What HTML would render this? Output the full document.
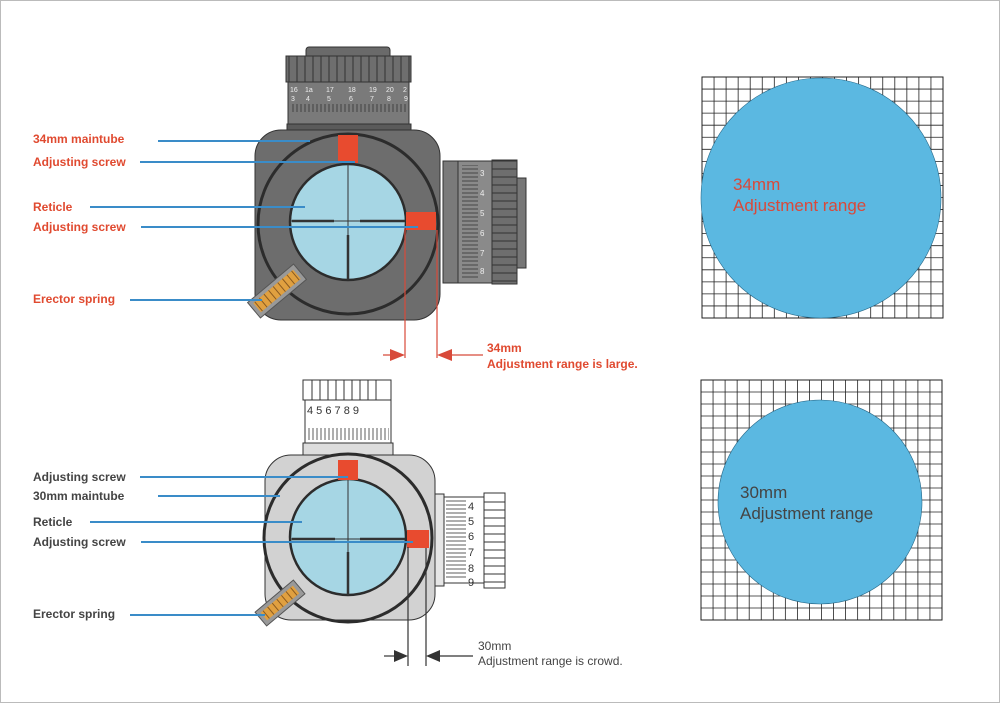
<!DOCTYPE html>
<html><head><meta charset="utf-8"><style>
html,body{margin:0;padding:0;background:#fff;width:1000px;height:703px;overflow:hidden}
svg{display:block}
text{font-family:"Liberation Sans",sans-serif}
</style></head><body>
<svg width="1000" height="703" viewBox="0 0 1000 703">
<defs>
<pattern id="tick" width="4" height="10" patternUnits="userSpaceOnUse">
<path d="M1 0V10" stroke="#333" stroke-width="0.8"/>
</pattern>
<pattern id="tickv" width="10" height="4" patternUnits="userSpaceOnUse">
<path d="M0 1H10" stroke="#333" stroke-width="0.8"/>
</pattern>
<pattern id="knurl" width="8" height="20" patternUnits="userSpaceOnUse">
<rect width="8" height="20" fill="#6e6e6e"/><path d="M1 0V20" stroke="#333" stroke-width="1"/>
</pattern>
<pattern id="knurlv" width="20" height="8" patternUnits="userSpaceOnUse">
<rect width="20" height="8" fill="#6e6e6e"/><path d="M0 1H20" stroke="#333" stroke-width="1"/>
</pattern>
</defs>
<rect x="0.5" y="0.5" width="999" height="702" fill="none" stroke="#bbb"/>

<!-- grids -->
<rect x="702" y="77" width="241" height="241" fill="#fff" stroke="#222"/>
<path stroke="#222" stroke-width="0.8" fill="none" d="M702 77v241m12.05 -241v241m12.05 -241v241m12.05 -241v241m12.05 -241v241m12.05 -241v241m12.05 -241v241m12.05 -241v241m12.05 -241v241m12.05 -241v241m12.05 -241v241m12.05 -241v241m12.05 -241v241m12.05 -241v241m12.05 -241v241m12.05 -241v241m12.05 -241v241m12.05 -241v241m12.05 -241v241m12.05 -241v241m12.05 -241v241
M702 77h241m-241 12.05h241m-241 12.05h241m-241 12.05h241m-241 12.05h241m-241 12.05h241m-241 12.05h241m-241 12.05h241m-241 12.05h241m-241 12.05h241m-241 12.05h241m-241 12.05h241m-241 12.05h241m-241 12.05h241m-241 12.05h241m-241 12.05h241m-241 12.05h241m-241 12.05h241m-241 12.05h241m-241 12.05h241m-241 12.05h241"/>
<circle cx="821" cy="198" r="120" fill="#5bb8e1" stroke="#2a6a8a" stroke-width="0.6"/>
<text x="733" y="190" font-size="17" fill="#d9493a">34mm</text>
<text x="733" y="211" font-size="17" fill="#d9493a">Adjustment range</text>

<rect x="701" y="380" width="241" height="240" fill="#fff" stroke="#222"/>
<path stroke="#222" stroke-width="0.8" fill="none" d="M701 380v240m12.05 -240v240m12.05 -240v240m12.05 -240v240m12.05 -240v240m12.05 -240v240m12.05 -240v240m12.05 -240v240m12.05 -240v240m12.05 -240v240m12.05 -240v240m12.05 -240v240m12.05 -240v240m12.05 -240v240m12.05 -240v240m12.05 -240v240m12.05 -240v240m12.05 -240v240m12.05 -240v240m12.05 -240v240m12.05 -240v240
M701 380h241m-241 12h241m-241 12h241m-241 12h241m-241 12h241m-241 12h241m-241 12h241m-241 12h241m-241 12h241m-241 12h241m-241 12h241m-241 12h241m-241 12h241m-241 12h241m-241 12h241m-241 12h241m-241 12h241m-241 12h241m-241 12h241m-241 12h241m-241 12h241"/>
<circle cx="820" cy="502" r="102" fill="#5bb8e1" stroke="#2a6a8a" stroke-width="0.6"/>
<text x="740" y="498" font-size="17" fill="#444">30mm</text>
<text x="740" y="519" font-size="17" fill="#444">Adjustment range</text>

<!-- TOP SCOPE -->
<rect x="306" y="47" width="84" height="14" rx="3" fill="#6a6a6a" stroke="#333"/>
<rect x="286" y="56" width="125" height="26" fill="url(#knurl)" stroke="#333"/>
<rect x="288" y="82" width="121" height="42" fill="#7a7a7a" stroke="#333"/>
<g font-size="7" fill="#eee">
<text x="290" y="92">16</text><text x="305" y="92">1a</text><text x="326" y="92">17</text><text x="348" y="92">18</text><text x="369" y="92">19</text><text x="386" y="92">20</text><text x="403" y="92">2</text>
<text x="291" y="101">3</text><text x="306" y="101">4</text><text x="327" y="101">5</text><text x="349" y="101">6</text><text x="370" y="101">7</text><text x="387" y="101">8</text><text x="404" y="101">9</text>
</g>
<rect x="290" y="104" width="118" height="8" fill="url(#tick)"/>
<rect x="287" y="124" width="124" height="8" fill="#5a5a5a" stroke="#333"/>
<rect x="443" y="161" width="20" height="122" fill="#7a7a7a" stroke="#333"/>
<rect x="458" y="161" width="34" height="122" fill="#8a8a8a" stroke="#333"/>
<rect x="462" y="165" width="16" height="114" fill="url(#tickv)"/>
<g font-size="8" fill="#eee">
<text x="480" y="176">3</text><text x="480" y="196">4</text><text x="480" y="216">5</text><text x="480" y="236">6</text><text x="480" y="256">7</text><text x="480" y="274">8</text>
</g>
<rect x="492" y="160" width="25" height="124" fill="url(#knurlv)" stroke="#333"/>
<rect x="517" y="178" width="9" height="90" fill="#777" stroke="#333"/>
<rect x="255" y="130" width="185" height="190" rx="26" fill="#6d6d6d" stroke="#333"/>
<circle cx="348" cy="224" r="90" fill="none" stroke="#2c2c2c" stroke-width="3"/>
<circle cx="348" cy="222" r="58" fill="#a6d6e4" stroke="#2c2c2c" stroke-width="2.5"/>
<line x1="348" y1="164" x2="348" y2="280" stroke="#333" stroke-width="1"/>
<line x1="290" y1="221" x2="405" y2="221" stroke="#333" stroke-width="1"/>
<line x1="348" y1="235" x2="348" y2="280" stroke="#333" stroke-width="2.5"/>
<line x1="292" y1="221" x2="334" y2="221" stroke="#333" stroke-width="2.5"/>
<line x1="360" y1="221" x2="405" y2="221" stroke="#333" stroke-width="2.5"/>
<rect x="338" y="135" width="20" height="28" fill="#e84b2f"/>
<rect x="406" y="212" width="30" height="18" fill="#e84b2f"/>
<g transform="translate(277,291) rotate(-40)">
<rect x="-30" y="-10" width="60" height="20" fill="#999" stroke="#555"/>
<rect x="-26" y="-6" width="52" height="12" fill="#e0a040"/>
<path d="M-24 -6V6M-18 -6V6M-12 -6V6M-6 -6V6M0 -6V6M6 -6V6M12 -6V6M18 -6V6M24 -6V6" stroke="#8a5a20"/>
</g>
<g font-size="12" font-weight="bold" fill="#e04a30">
<text x="33" y="143">34mm maintube</text>
<text x="33" y="166">Adjusting screw</text>
<text x="33" y="211">Reticle</text>
<text x="33" y="231">Adjusting screw</text>
<text x="33" y="303">Erector spring</text>
</g>
<g stroke="#3a8cc8" stroke-width="2">
<line x1="158" y1="141" x2="310" y2="141"/>
<line x1="140" y1="162" x2="355" y2="162"/>
<line x1="90" y1="207" x2="305" y2="207"/>
<line x1="141" y1="227" x2="418" y2="227"/>
<line x1="130" y1="300" x2="262" y2="300"/>
</g>
<g stroke="#d84a3a" stroke-width="1.2">
<line x1="405" y1="228" x2="405" y2="358"/>
<line x1="437" y1="230" x2="437" y2="358"/>
<line x1="383" y1="355" x2="400" y2="355"/>
<line x1="444" y1="355" x2="483" y2="355"/>
</g>
<path d="M405 355 L390 349 L390 361Z M437 355 L452 349 L452 361Z" fill="#d84a3a"/>
<text x="487" y="352" font-size="12" font-weight="bold" fill="#e04a30">34mm</text>
<text x="487" y="368" font-size="12" font-weight="bold" fill="#e04a30">Adjustment range is large.</text>

<!-- BOTTOM SCOPE -->
<rect x="303" y="380" width="88" height="20" fill="#fff" stroke="#333"/>
<path d="M312 380V400M320 380V400M328 380V400M336 380V400M344 380V400M352 380V400M360 380V400M368 380V400M376 380V400" stroke="#333"/>
<rect x="305" y="400" width="86" height="43" fill="#fff" stroke="#333"/>
<text x="307" y="414" font-size="11" fill="#333">4 5  6  7  8  9</text>
<rect x="307" y="428" width="82" height="12" fill="url(#tick)"/>
<rect x="303" y="443" width="90" height="14" fill="#ddd" stroke="#333"/>
<rect x="430" y="494" width="14" height="92" fill="#e6e6e6" stroke="#333"/>
<rect x="444" y="497" width="40" height="86" fill="#fff" stroke="#333"/>
<rect x="446" y="500" width="20" height="80" fill="url(#tickv)"/>
<text x="468" y="510" font-size="11" fill="#333">4</text>
<text x="468" y="525" font-size="11" fill="#333">5</text>
<text x="468" y="540" font-size="11" fill="#333">6</text>
<text x="468" y="556" font-size="11" fill="#333">7</text>
<text x="468" y="572" font-size="11" fill="#333">8</text>
<text x="468" y="586" font-size="11" fill="#333">9</text>
<rect x="484" y="493" width="21" height="95" fill="#fff" stroke="#333"/>
<path d="M484 502H505M484 510H505M484 518H505M484 526H505M484 534H505M484 542H505M484 550H505M484 558H505M484 566H505M484 574H505M484 582H505" stroke="#333"/>
<rect x="265" y="455" width="170" height="165" rx="26" fill="#d2d2d2" stroke="#333"/>
<circle cx="348" cy="538" r="84" fill="none" stroke="#2c2c2c" stroke-width="3"/>
<circle cx="348" cy="537" r="58" fill="#a6d6e4" stroke="#2c2c2c" stroke-width="2.5"/>
<line x1="348" y1="479" x2="348" y2="595" stroke="#333" stroke-width="1"/>
<line x1="290" y1="539" x2="405" y2="539" stroke="#333" stroke-width="1"/>
<line x1="348" y1="552" x2="348" y2="595" stroke="#333" stroke-width="2.5"/>
<line x1="292" y1="539" x2="335" y2="539" stroke="#333" stroke-width="2.5"/>
<line x1="360" y1="539" x2="405" y2="539" stroke="#333" stroke-width="2.5"/>
<rect x="338" y="460" width="20" height="20" fill="#e84b2f"/>
<rect x="407" y="530" width="22" height="18" fill="#e84b2f"/>
<g transform="translate(280,603) rotate(-40)">
<rect x="-25" y="-9" width="50" height="18" fill="#999" stroke="#555"/>
<rect x="-21" y="-5" width="42" height="10" fill="#e0a040"/>
<path d="M-18 -5V5M-12 -5V5M-6 -5V5M0 -5V5M6 -5V5M12 -5V5M18 -5V5" stroke="#8a5a20"/>
</g>
<g font-size="12" font-weight="bold" fill="#444">
<text x="33" y="481">Adjusting screw</text>
<text x="33" y="500">30mm maintube</text>
<text x="33" y="526">Reticle</text>
<text x="33" y="546">Adjusting screw</text>
<text x="33" y="618">Erector spring</text>
</g>
<g stroke="#3a8cc8" stroke-width="2">
<line x1="140" y1="477" x2="348" y2="477"/>
<line x1="158" y1="496" x2="280" y2="496"/>
<line x1="90" y1="522" x2="302" y2="522"/>
<line x1="141" y1="542" x2="413" y2="542"/>
<line x1="130" y1="615" x2="265" y2="615"/>
</g>
<g stroke="#333" stroke-width="1.2">
<line x1="408" y1="547" x2="408" y2="666"/>
<line x1="426" y1="548" x2="426" y2="666"/>
<line x1="384" y1="656" x2="400" y2="656"/>
<line x1="434" y1="656" x2="473" y2="656"/>
</g>
<path d="M408 656 L394 650 L394 662Z M426 656 L440 650 L440 662Z" fill="#333"/>
<text x="478" y="650" font-size="12" fill="#444">30mm</text>
<text x="478" y="665" font-size="12" fill="#444">Adjustment range is crowd.</text>
</svg>
</body></html>
